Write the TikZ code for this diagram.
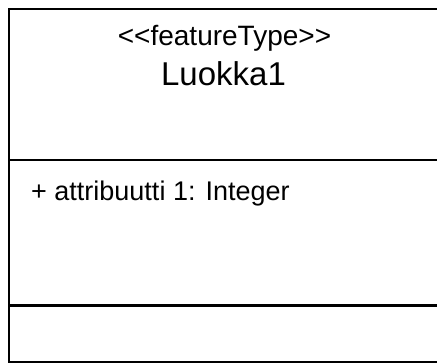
\documentclass[tikz,border=0pt]{standalone}
\usepackage{fontspec}
\setmainfont{Liberation Sans}
\begin{document}
\begin{tikzpicture}[x=1pt,y=-1pt,
  umlline/.style={line width=2.4pt,draw=black},
  stereo/.style={font=\fontsize{28}{31}\selectfont,inner sep=0pt,anchor=base},
  classname/.style={font=\fontsize{33}{36}\selectfont,inner sep=0pt,anchor=base},
  attr/.style={font=\fontsize{27}{30}\selectfont,inner sep=0pt,anchor=base west}]
  \useasboundingbox (0,0) rectangle (437,362);
  \clip (0,0) rectangle (437,362);
  % class frame and compartment separators
  \coordinate (tl) at (9,9);
  \coordinate (br) at (450,362.6);
  \draw[umlline] (tl) rectangle (br);
  \coordinate (s1l) at (9,160);
  \coordinate (s1r) at (450,160);
  \coordinate (s2l) at (9,305.5);
  \coordinate (s2r) at (450,305.5);
  \draw[umlline] (s1l) -- (s1r);
  \draw[umlline] (s2l) -- (s2r);
  % name compartment
  \node[stereo] (st) at (224.5,45) {<{}<featureType>{}>};
  \node[classname] (nm) at (223.5,85) {Luokka1};
  % attribute compartment
  \node[attr] (a1) at (31,200) {+ attribuutti 1: Integer};
\end{tikzpicture}
\end{document}
